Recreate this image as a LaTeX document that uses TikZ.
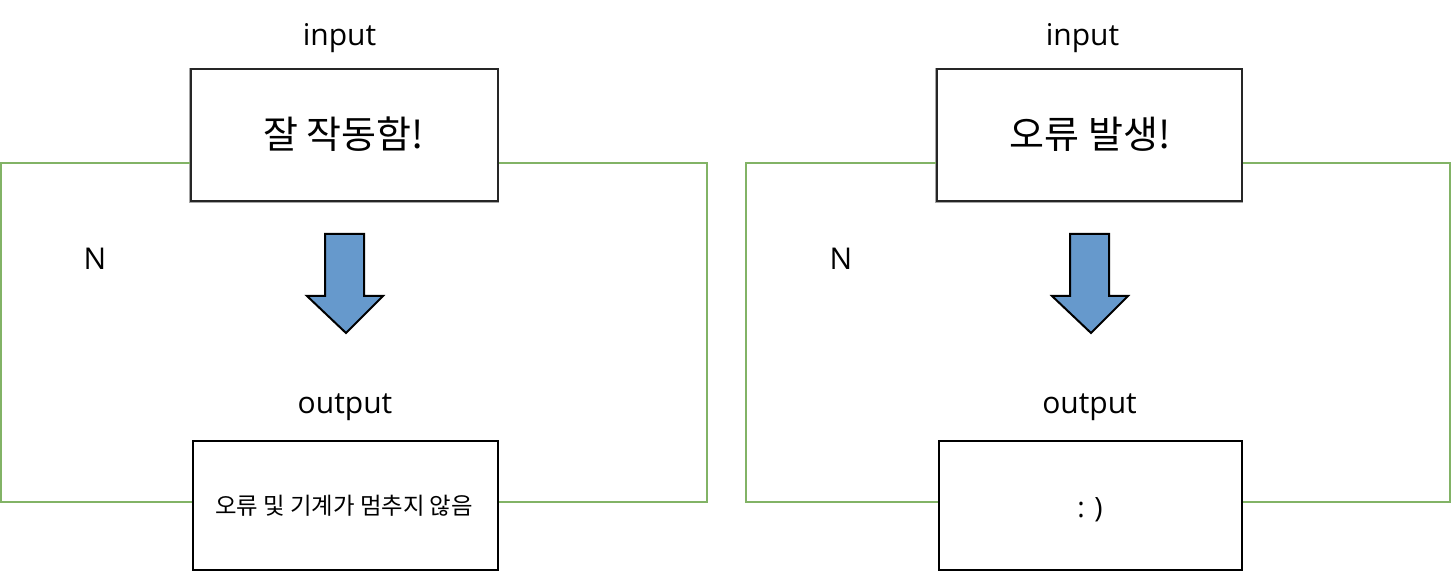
\documentclass[tikz,border=0pt]{standalone}
\usepackage{fontspec}
\setmainfont{Open Sans}
\newfontfamily\kr{Noto Sans CJK KR}
\definecolor{loopgreen}{HTML}{82B366}
\definecolor{arrowblue}{HTML}{6699CC}
\begin{document}
\begin{tikzpicture}[x=1pt,y=-1pt,
  box/.style={draw=black,line width=2pt,fill=white,inner sep=0pt},
  shadowbox/.style={box,draw=black!85,
    preaction={draw=black!35,line width=3pt,transform canvas={xshift=-1pt,yshift=-1pt}}},
  loopline/.style={draw=loopgreen,line width=2pt},
  bigarrow/.style={draw=black,line width=2pt,fill=arrowblue,line join=miter},
  lbl/.style={font=\fontsize{30}{30}\selectfont,anchor=base,inner sep=0pt},
  krbig/.style={font=\kr\fontsize{38}{38}\selectfont,anchor=base,inner sep=0pt},
  krsmall/.style={font=\kr\fontsize{23.4}{24}\selectfont,anchor=base,inner sep=0pt}]
\useasboundingbox (0,0) rectangle (1452,572);

% ---------- left panel ----------
\coordinate (gl1) at (1,163);
\coordinate (gr1) at (707,163);
\node[shadowbox,minimum width=307pt,minimum height=132pt] (t1) at (344.5,135) {};
\node[box,minimum width=305pt,minimum height=129pt] (b1) at (345.5,505.5) {};
\draw[loopline] ([yshift=-28pt]t1.west) -- (gl1) |- ([yshift=3.5pt]b1.west);
\draw[loopline] ([yshift=-28pt]t1.east) -- (gr1) |- ([yshift=3.5pt]b1.east);
\node[krbig] (t1txt) at (343.5,149) {잘 작동함!};
\node[krsmall] (b1txt) at (344,514) {오류 및 기계가 멈추지 않음};
\node[lbl] (in1) at (339.5,46) {input};
\node[lbl] (out1) at (345,413) {output};
\node[lbl] (n1) at (95,270) {N};
\draw[bigarrow] (325,234) -- (364,234) -- (364,296) -- (383,296) -- (346,333)
  -- (307,296) -- (325,296) -- cycle;

% ---------- right panel ----------
\coordinate (gl2) at (746,163);
\coordinate (gr2) at (1450,163);
\node[shadowbox,minimum width=305pt,minimum height=132pt] (t2) at (1089.5,135) {};
\node[box,minimum width=303pt,minimum height=129pt] (b2) at (1090.5,505.5) {};
\draw[loopline] ([yshift=-28pt]t2.west) -- (gl2) |- ([yshift=3.5pt]b2.west);
\draw[loopline] ([yshift=-28pt]t2.east) -- (gr2) |- ([yshift=3.5pt]b2.east);
\node[krbig] (t2txt) at (1090,149) {오류 발생!};
\node[lbl,font=\fontsize{28}{28}\selectfont] (b2txt) at (1090,517) {: )};
\node[lbl] (in2) at (1082.5,46) {input};
\node[lbl] (out2) at (1089.5,413) {output};
\node[lbl] (n2) at (841,270) {N};
\draw[bigarrow] (1070,234) -- (1109,234) -- (1109,296) -- (1128,296) -- (1091,333)
  -- (1052,296) -- (1070,296) -- cycle;
\end{tikzpicture}
\end{document}
